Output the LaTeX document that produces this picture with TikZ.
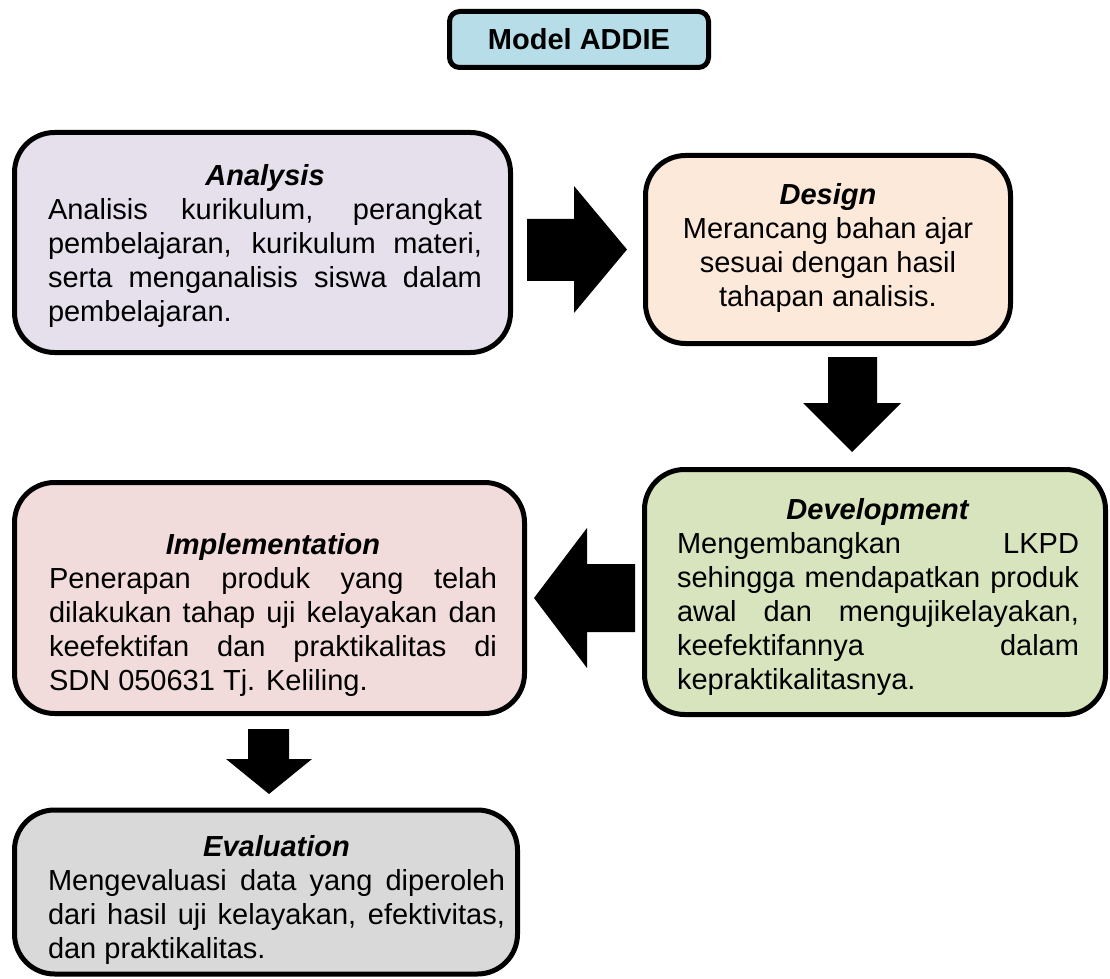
\documentclass[tikz,border=0pt]{standalone}
\usepackage{fontspec}
\setmainfont{Liberation Sans}
\definecolor{cAddie}{HTML}{B7DEE8}
\definecolor{cAna}{HTML}{E5E0EC}
\definecolor{cDes}{HTML}{FDE9D9}
\definecolor{cDev}{HTML}{D7E4BD}
\definecolor{cImp}{HTML}{F2DCDB}
\definecolor{cEva}{HTML}{D9D9D9}
\newcommand{\boxtitle}[1]{\hyphenpenalty=10000\relax\exhyphenpenalty=10000\relax\tolerance=10000\relax\hbox to\hsize{\hss\textbf{\textit{#1}}\hss}\par}
\begin{document}
\begin{tikzpicture}[x=0.5pt,y=-0.5pt,
  box/.style={draw=black, line width=2.5pt, rounded corners=20pt, inner sep=0pt},
  txt/.style={font=\fontsize{14.5}{17}\selectfont, inner sep=0pt, align=justify},
  ctxt/.style={font=\fontsize{14.5}{17}\selectfont, inner sep=0pt, align=center},
  blockarrow/.style={fill=black}]
\useasboundingbox (0,0) rectangle (1110,979);

% title
\node[box, rounded corners=5pt, fill=cAddie, minimum width=129.5pt, minimum height=28pt,
      font=\fontsize{14.5}{17}\selectfont] (addie) at (579,39.5) {\textbf{Model ADDIE}};

% boxes
\node[box, fill=cAna, minimum width=248pt, minimum height=110pt] (analysis) at (262.5,242.5) {};
\node[box, fill=cDes, minimum width=182.5pt, minimum height=94pt] (design) at (828,249.5) {};
\node[box, fill=cDev, minimum width=230.5pt, minimum height=122.5pt] (development) at (875,592) {};
\node[box, fill=cImp, minimum width=255pt, minimum height=115.5pt] (implementation) at (269.5,598) {};
\node[box, fill=cEva, minimum width=251.5pt, minimum height=82pt] (evaluation) at (266,892) {};

% texts
\node[txt, text width=217pt] (analysisT) at (265,246)
 {\boxtitle{Analysis}Analisis kurikulum, perangkat pembelajaran, kurikulum materi, serta menganalisis siswa dalam pembelajaran.\par};
\node[ctxt] (designT) at (828,248)
 {\textbf{\textit{Design}}\\Merancang bahan ajar\\sesuai dengan hasil\\tahapan analisis.};
\node[txt, text width=201pt] (developmentT) at (878,597)
 {\boxtitle{Development}Mengembangkan LKPD sehingga mendapatkan produk awal dan mengujikelayakan, keefektifannya dalam kepraktikalitasnya.\par};
\node[txt, text width=224pt] (implementationT) at (273,615)
 {\spaceskip=4.03pt plus 8pt minus 2.5pt\relax\boxtitle{Implementation}Penerapan produk yang telah\linebreak dilakukan tahap uji kelayakan dan\linebreak keefektifan dan praktikalitas di\linebreak SDN 050631 Tj. Keliling.\par};
\node[txt, text width=228.5pt] (evaluationT) at (276.5,900)
 {\boxtitle{Evaluation}Mengevaluasi data yang diperoleh dari hasil uji kelayakan, efektivitas, dan praktikalitas.\par};

% block arrows
\fill[blockarrow] (527,219) -- (574,219) -- (574,186) -- (627,249.5) -- (574,313) -- (574,281) -- (527,281) -- cycle;
\fill[blockarrow] (828,357) -- (877,357) -- (877,403) -- (901,403) -- (852,452) -- (803,403) -- (828,403) -- cycle;
\fill[blockarrow] (635,564) -- (587,564) -- (587,528) -- (534,598) -- (587,668) -- (587,632) -- (635,632) -- cycle;
\fill[blockarrow] (248,729) -- (289,729) -- (289,759) -- (312,759) -- (269,794) -- (226,759) -- (248,759) -- cycle;
\end{tikzpicture}
\end{document}
